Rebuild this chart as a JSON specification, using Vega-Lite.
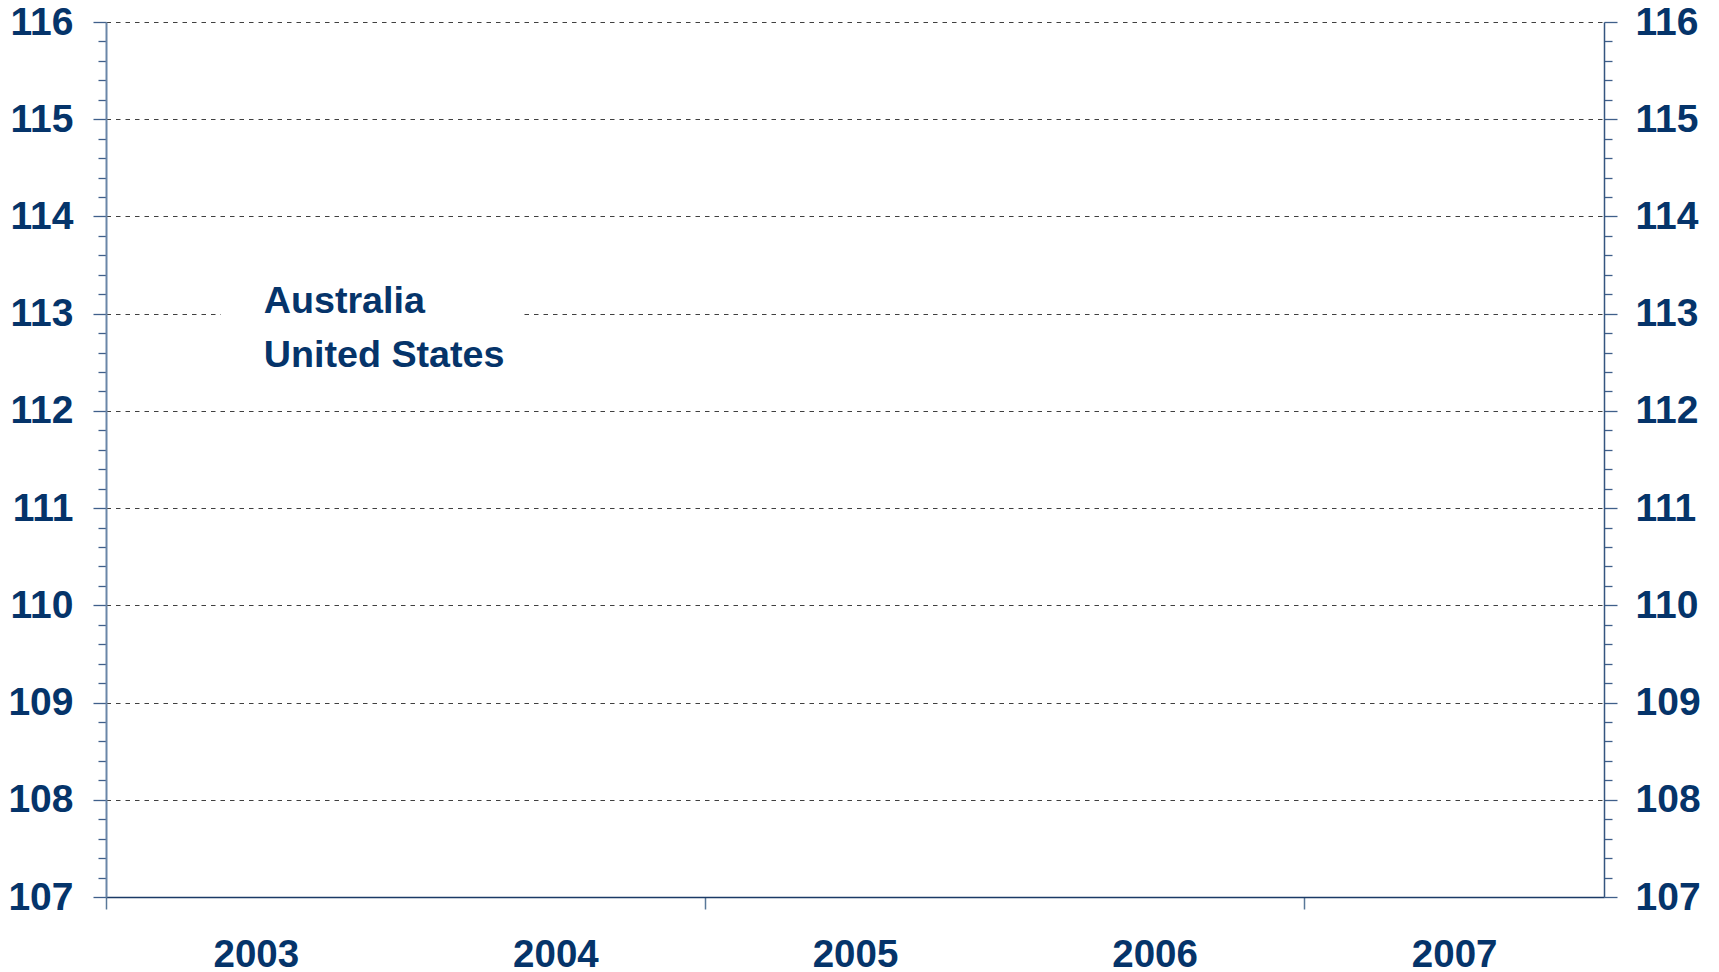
{
  "$schema": "https://vega.github.io/schema/vega-lite/v6.json",
  "width": 1498,
  "height": 875,
  "autosize": {"type": "none"},
  "padding": {"left": 106, "top": 22, "right": 115, "bottom": 75},
  "background": "white",
  "config": {"view": {"stroke": null}, "font": "Liberation Sans"},
  "data": {
    "values": [
      {"year": 2003, "country": "Australia", "index": null},
      {"year": 2004, "country": "Australia", "index": null},
      {"year": 2005, "country": "Australia", "index": null},
      {"year": 2006, "country": "Australia", "index": null},
      {"year": 2007, "country": "Australia", "index": null},
      {"year": 2003, "country": "United States", "index": null},
      {"year": 2004, "country": "United States", "index": null},
      {"year": 2005, "country": "United States", "index": null},
      {"year": 2006, "country": "United States", "index": null},
      {"year": 2007, "country": "United States", "index": null}
    ]
  },
  "encoding": {
    "x": {
      "field": "year",
      "type": "quantitative",
      "scale": {"domain": [2002.5, 2007.5], "nice": false, "zero": false},
      "axis": {
        "title": null,
        "values": [2002.5, 2003, 2004, 2004.5, 2005, 2006, 2006.5, 2007],
        "tickCount": 100,
        "tickMinStep": 0.01,
        "labelExpr": "datum.value % 1 == 0 ? format(datum.value, 'd') : ''",
        "labelOverlap": false,
        "labelBound": false,
        "labelFlush": false,
        "labelFont": "Liberation Sans",
        "labelFontWeight": "bold",
        "labelFontSize": 38.5,
        "labelColor": "#05346a",
        "labelPadding": 27,
        "labelBaseline": "top",
        "tickSize": 12,
        "tickColor": "#5a7899",
        "tickWidth": 1.5,
        "tickOpacity": {"condition": {"test": "datum.value % 1 != 0", "value": 1}, "value": 0},
        "domainColor": "#1b3a66",
        "domainWidth": 1.5,
        "grid": false
      }
    },
    "color": {
      "field": "country",
      "type": "nominal",
      "scale": {"domain": ["Australia", "United States"], "range": ["#003366", "#7fa7d1"]},
      "legend": {
        "title": null,
        "orient": "none",
        "legendX": 115,
        "legendY": 242,
        "fillColor": "white",
        "padding": 19,
        "symbolType": "stroke",
        "symbolSize": 225,
        "symbolOpacity": 0,
        "symbolStrokeWidth": 0,
        "labelOffset": -14,
        "labelFont": "Liberation Sans",
        "labelFontWeight": "bold",
        "labelFontSize": 37.7,
        "labelColor": "#05346a",
        "labelLimit": 0,
        "rowPadding": 15
      }
    }
  },
  "layer": [
    {
      "mark": {"type": "line", "strokeWidth": 3},
      "encoding": {
        "y": {
          "field": "index",
          "type": "quantitative",
          "scale": {"domain": [107, 116], "nice": false, "zero": false},
          "axis": {
            "orient": "left",
            "title": null,
            "values": [107, 107.2, 107.4, 107.6, 107.8, 108, 108.2, 108.4, 108.6, 108.8, 109, 109.2, 109.4, 109.6, 109.8, 110, 110.2, 110.4, 110.6, 110.8, 111, 111.2, 111.4, 111.6, 111.8, 112, 112.2, 112.4, 112.6, 112.8, 113, 113.2, 113.4, 113.6, 113.8, 114, 114.2, 114.4, 114.6, 114.8, 115, 115.2, 115.4, 115.6, 115.8, 116],
            "tickCount": 100,
            "tickMinStep": 0.01,
            "labelExpr": "abs(datum.value - round(datum.value)) < 0.01 ? format(round(datum.value), 'd') : ''",
            "labelOverlap": false,
            "labelBound": false,
            "labelFlush": false,
            "labelFont": "Liberation Sans",
            "labelFontWeight": "bold",
            "labelFontSize": 39,
            "labelColor": "#05346a",
            "labelPadding": 20,
            "tickSize": {"condition": {"test": "abs(datum.value - round(datum.value)) < 0.01", "value": 13}, "value": 8},
            "tickColor": "#3f5f8a",
            "tickWidth": 1.3,
            "domainColor": "#6a86a8",
            "domainWidth": 2,
            "grid": true,
            "gridColor": "#404040",
            "gridDash": [4.5, 5],
            "gridWidth": 1.1,
            "gridOpacity": {"condition": {"test": "abs(datum.value - round(datum.value)) < 0.01", "value": 1}, "value": 0}
          }
        }
      }
    },
    {
      "mark": {"type": "line", "strokeWidth": 3},
      "encoding": {
        "y": {
          "field": "index",
          "type": "quantitative",
          "scale": {"domain": [107, 116], "nice": false, "zero": false},
          "axis": {
            "orient": "right",
            "title": null,
            "values": [107, 107.2, 107.4, 107.6, 107.8, 108, 108.2, 108.4, 108.6, 108.8, 109, 109.2, 109.4, 109.6, 109.8, 110, 110.2, 110.4, 110.6, 110.8, 111, 111.2, 111.4, 111.6, 111.8, 112, 112.2, 112.4, 112.6, 112.8, 113, 113.2, 113.4, 113.6, 113.8, 114, 114.2, 114.4, 114.6, 114.8, 115, 115.2, 115.4, 115.6, 115.8, 116],
            "tickCount": 100,
            "tickMinStep": 0.01,
            "labelExpr": "abs(datum.value - round(datum.value)) < 0.01 ? format(round(datum.value), 'd') : ''",
            "labelOverlap": false,
            "labelBound": false,
            "labelFlush": false,
            "labelFont": "Liberation Sans",
            "labelFontWeight": "bold",
            "labelFontSize": 39,
            "labelColor": "#05346a",
            "labelPadding": 18,
            "tickSize": {"condition": {"test": "abs(datum.value - round(datum.value)) < 0.01", "value": 13}, "value": 8},
            "tickColor": "#3f5f8a",
            "tickWidth": 1.3,
            "domainColor": "#34557f",
            "domainWidth": 1.5,
            "grid": false
          }
        }
      }
    }
  ],
  "resolve": {"axis": {"y": "independent"}}
}
